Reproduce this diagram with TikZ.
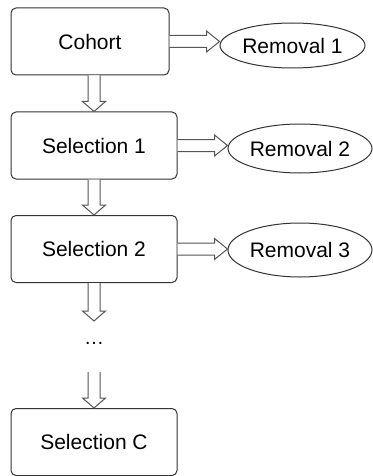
\documentclass[tikz,border=0pt]{standalone}
\usepackage{fontspec}
\setmainfont{Liberation Sans}
\usetikzlibrary{calc,shapes.geometric}
\definecolor{edgegray}{HTML}{333333}
\definecolor{arrgray}{HTML}{555555}
\tikzset{
  stagebox/.style={rectangle, rounded corners=2.5pt, draw=edgegray, line width=0.5pt, fill=white,
                   minimum width=83pt, minimum height=33.5pt, inner sep=0pt, font=\fontsize{10.5}{12}\selectfont},
  removal/.style={ellipse, draw=edgegray, line width=0.5pt, fill=white, minimum width=72pt,
                  inner sep=0pt, font=\fontsize{10.5}{12}\selectfont},
  blk/.style={draw=arrgray, line width=0.5pt, fill=white, line join=miter},
}
% hollow block arrows: #1 = tail, #2 = tip
\newcommand{\downblk}[2]{%
  \draw[blk] ($(#1)+(-6,0)$) -- ($(#2)+(-6,-10)$) -- ($(#2)+(-11.5,-10)$) -- (#2)
    -- ($(#2)+(11.5,-10)$) -- ($(#2)+(6,-10)$) -- ($(#1)+(6,0)$);}
\newcommand{\rightblk}[2]{%
  \draw[blk] ($(#1)+(0,-6)$) -- ($(#2)+(-13,-6)$) -- ($(#2)+(-13,-10.5)$) -- (#2)
    -- ($(#2)+(-13,10.5)$) -- ($(#2)+(-13,6)$) -- ($(#1)+(0,6)$);}

\begin{document}
\begin{tikzpicture}[x=0.5pt, y=-0.5pt]
  \useasboundingbox (0,0) rectangle (372,476);
  \node[stagebox, minimum width=79pt] (cohort) at (90,41.5) {Cohort};
  \node[stagebox] (sel1) at (94,145.5) {Selection 1};
  \node[stagebox] (sel2) at (94,249) {Selection 2};
  \node (dots) at (94,343) {…};
  \node[stagebox] (selC) at (94,442) {Selection C};
  \coordinate (dotsin) at (94,321);
  \coordinate (dotsout) at (94,372);

  \node[removal, minimum width=72.5pt, minimum height=22.5pt] (rem1) at (292.5,45.5) {Removal 1};
  \node[removal, minimum height=24.5pt] (rem2) at (300,148.5) {Removal 2};
  \node[removal, minimum height=27pt] (rem3) at (300,250) {Removal 3};

  \downblk{cohort.south -| sel1.north}{sel1.north}
  \downblk{sel1.south}{sel2.north}
  \downblk{sel2.south}{dotsin}
  \downblk{dotsout}{selC.north}

  \rightblk{cohort.east}{cohort.east -| rem1.west}
  \rightblk{sel1.east}{sel1.east -| rem2.west}
  \rightblk{sel2.east}{sel2.east -| rem3.west}
\end{tikzpicture}
\end{document}
